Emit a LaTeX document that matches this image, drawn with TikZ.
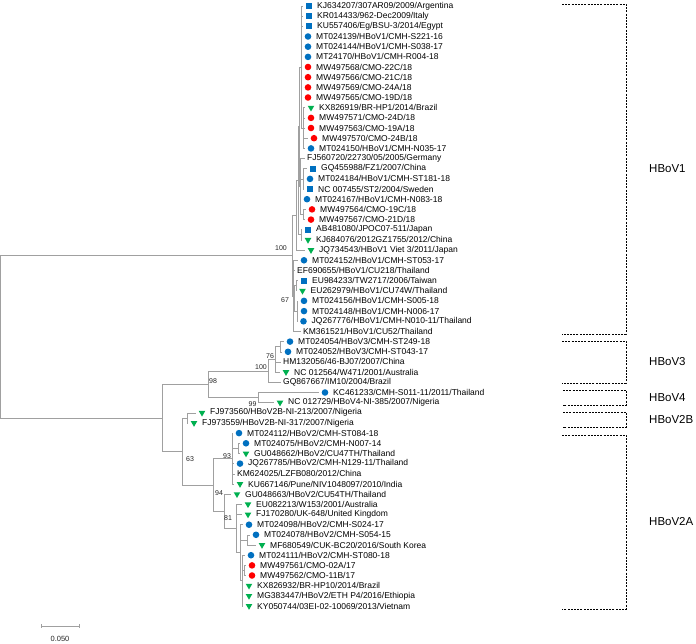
\documentclass[tikz,border=0pt]{standalone}
\usepackage{fontspec}
\setmainfont{Liberation Sans}
\usetikzlibrary{shapes.geometric}
\definecolor{hbblue}{RGB}{0,112,192}
\definecolor{hbred}{RGB}{255,0,0}
\definecolor{hbgreen}{RGB}{0,176,80}
\definecolor{branch}{RGB}{160,160,160}

% taxon with a marker: name, y, tip x, marker style, label
\newcommand{\taxon}[5]{%
  \coordinate (#1) at (#3,#2);
  \node[#4] (#1m) at ([xshift=6pt]#1) {};
  \node[tx] (#1t) at ([xshift=14pt]#1) {#5};}
% taxon without a marker
\newcommand{\taxonplain}[4]{%
  \coordinate (#1) at (#3,#2);
  \node[tx] (#1t) at ([xshift=2pt]#1) {#4};}

\begin{document}
\begin{tikzpicture}[x=1pt,y=-1pt,
    br/.style={draw=branch,line width=0.6pt},
    tx/.style={anchor=west,inner sep=0pt,font=\fontsize{8.5}{10}\selectfont},
    sq/.style={rectangle,fill=hbblue,inner sep=0pt,minimum size=6pt},
    bc/.style={circle,fill=hbblue,inner sep=0pt,minimum size=6.6pt},
    rc/.style={circle,fill=hbred,inner sep=0pt,minimum size=6.6pt},
    gt/.style={regular polygon,regular polygon sides=3,shape border rotate=180,fill=hbgreen,inner sep=0pt,minimum size=7.6pt},
    boot/.style={inner sep=0pt,font=\fontsize{7}{8}\selectfont,text=black!85},
    clade/.style={draw=black,line width=0.5pt,dash pattern=on 2pt off 1.2pt},
    cname/.style={anchor=west,inner sep=0pt,font=\fontsize{11.5}{13}\selectfont}]

    \useasboundingbox (0,0) rectangle (696,644);

    % HBoV1
    \taxon{kj634207}{6.0}{303}{sq}{KJ634207/307AR09/2009/Argentina}
    \taxon{kr014433}{16.2}{303}{sq}{KR014433/962-Dec2009/Italy}
    \taxon{ku557406}{26.3}{303}{sq}{KU557406/Eg/BSU-3/2014/Egypt}
    \taxon{mt024139}{36.5}{302}{bc}{MT024139/HBoV1/CMH-S221-16}
    \taxon{mt024144}{46.7}{302}{bc}{MT024144/HBoV1/CMH-S038-17}
    \taxon{mt24170}{56.9}{302}{bc}{MT24170/HBoV1/CMH-R004-18}
    \taxon{mw497568}{67.0}{302}{rc}{MW497568/CMO-22C/18}
    \taxon{mw497566}{77.2}{302}{rc}{MW497566/CMO-21C/18}
    \taxon{mw497569}{87.4}{302}{rc}{MW497569/CMO-24A/18}
    \taxon{mw497565}{97.5}{302}{rc}{MW497565/CMO-19D/18}
    \taxon{kx826919}{107.7}{305}{gt}{KX826919/BR-HP1/2014/Brazil}
    \taxon{mw497571}{117.9}{305}{rc}{MW497571/CMO-24D/18}
    \taxon{mw497563}{128.0}{305}{rc}{MW497563/CMO-19A/18}
    \taxon{mw497570}{138.2}{308}{rc}{MW497570/CMO-24B/18}
    \taxon{mt024150}{148.4}{305}{bc}{MT024150/HBoV1/CMH-N035-17}
    \taxonplain{fj560720}{158.6}{305}{FJ560720/22730/05/2005/Germany}
    \taxon{gq455988}{168.7}{307}{sq}{GQ455988/FZ1/2007/China}
    \taxon{mt024184}{178.9}{304}{bc}{MT024184/HBoV1/CMH-ST181-18}
    \taxon{nc007455}{189.1}{304}{sq}{NC 007455/ST2/2004/Sweden}
    \taxon{mt024167}{199.2}{301}{bc}{MT024167/HBoV1/CMH-N083-18}
    \taxon{mw497564}{209.4}{306}{rc}{MW497564/CMO-19C/18}
    \taxon{mw497567}{219.6}{305}{rc}{MW497567/CMO-21D/18}
    \taxon{ab481080}{229.7}{302}{sq}{AB481080/JPOC07-511/Japan}
    \taxon{kj684076}{239.9}{302}{gt}{KJ684076/2012GZ1755/2012/China}
    \taxon{jq734543}{250.1}{305}{gt}{JQ734543/HBoV1 Viet 3/2011/Japan}
    \taxon{mt024152}{260.3}{298}{bc}{MT024152/HBoV1/CMH-ST053-17}
    \taxonplain{ef690655}{270.4}{295}{EF690655/HBoV1/CU218/Thailand}
    \taxon{eu984233}{280.6}{298}{sq}{EU984233/TW2717/2006/Taiwan}
    \taxon{eu262979}{290.8}{296.5}{gt}{EU262979/HBoV1/CU74W/Thailand}
    \taxon{mt024156}{300.9}{298}{bc}{MT024156/HBoV1/CMH-S005-18}
    \taxon{mt024148}{311.1}{298}{bc}{MT024148/HBoV1/CMH-N006-17}
    \taxon{jq267776}{321.3}{297.5}{bc}{JQ267776/HBoV1/CMH-N010-11/Thailand}
    \taxonplain{km361521}{331.4}{301}{KM361521/HBoV1/CU52/Thailand}
    % HBoV3 and HBoV4
    \taxon{mt024054}{341.6}{284}{bc}{MT024054/HBoV3/CMH-ST249-18}
    \taxon{mt024052}{351.8}{282}{bc}{MT024052/HBoV3/CMH-ST043-17}
    \taxonplain{hm132056}{361.9}{281}{HM132056/46-BJ07/2007/China}
    \taxon{nc012564}{372.1}{280}{gt}{NC 012564/W471/2001/Australia}
    \taxonplain{gq867667}{382.3}{281}{GQ867667/IM10/2004/Brazil}
    \taxon{kc461233}{392.5}{319}{bc}{KC461233/CMH-S011-11/2011/Thailand}
    \taxon{nc012729}{402.6}{274}{gt}{NC 012729/HBoV4-NI-385/2007/Nigeria}
    % HBoV2
    \taxon{fj973560}{412.8}{196}{gt}{FJ973560/HBoV2B-NI-213/2007/Nigeria}
    \taxon{fj973559}{423.0}{188}{gt}{FJ973559/HBoV2B-NI-317/2007/Nigeria}
    \taxon{mt024112}{433.1}{233}{bc}{MT024112/HBoV2/CMH-ST084-18}
    \taxon{mt024075}{443.3}{240}{bc}{MT024075/HBoV2/CMH-N007-14}
    \taxon{gu048662}{453.5}{240}{gt}{GU048662/HBoV2/CU47TH/Thailand}
    \taxon{jq267785}{463.6}{234}{bc}{JQ267785/HBoV2/CMH-N129-11/Thailand}
    \taxonplain{km624025}{473.8}{235}{KM624025/LZFB080/2012/China}
    \taxon{ku667146}{484.0}{234}{gt}{KU667146/Pune/NIV1048097/2010/India}
    \taxon{gu048663}{494.2}{231}{gt}{GU048663/HBoV2/CU54TH/Thailand}
    \taxon{eu082213}{504.3}{242}{gt}{EU082213/W153/2001/Australia}
    \taxon{fj170280}{514.5}{242}{gt}{FJ170280/UK-648/United Kingdom}
    \taxon{mt024098}{524.7}{243}{bc}{MT024098/HBoV2/CMH-S024-17}
    \taxon{mt024078}{534.8}{250}{bc}{MT024078/HBoV2/CMH-S054-15}
    \taxon{mf680549}{545.0}{256}{gt}{MF680549/CUK-BC20/2016/South Korea}
    \taxon{mt024111}{555.2}{245}{bc}{MT024111/HBoV2/CMH-ST080-18}
    \taxon{mw497561}{565.4}{246}{rc}{MW497561/CMO-02A/17}
    \taxon{mw497562}{575.5}{246}{rc}{MW497562/CMO-11B/17}
    \taxon{kx826932}{585.7}{243}{gt}{KX826932/BR-HP10/2014/Brazil}
    \taxon{mg383447}{595.9}{243}{gt}{MG383447/HBoV2/ETH P4/2016/Ethiopia}
    \taxon{ky050744}{606.0}{243}{gt}{KY050744/03EI-02-10069/2013/Vietnam}

    % internal nodes
    \coordinate (p2) at (303,128.1);
    \coordinate (p1) at (301,67.0);
    \coordinate (p5) at (303,178.9);
    \coordinate (p6) at (303,214.5);
    \coordinate (p4) at (300,186.6);
    \coordinate (p3) at (299,126.8);
    \coordinate (p7) at (301,234.8);
    \coordinate (py) at (298,180.8);
    \coordinate (pa) at (296,215.5);
    \coordinate (q1) at (296,285.7);
    \coordinate (q2) at (297,311.1);
    \coordinate (q3) at (294.5,298.4);
    \coordinate (q4) at (293.5,295.9);
    \coordinate (hb1) at (292,255.7);
    \coordinate (v3a) at (280,346.7);
    \coordinate (v3b) at (275,359.4);
    \coordinate (hb3) at (268,370.9);
    \coordinate (hb4) at (258,397.6);
    \coordinate (hb34) at (208,384.2);
    \coordinate (hb2b) at (187,417.9);
    \coordinate (w1) at (238,448.4);
    \coordinate (w93) at (232,458.6);
    \coordinate (w2) at (247,539.9);
    \coordinate (w3) at (244.5,570.5);
    \coordinate (w4) at (242,580.6);
    \coordinate (w5) at (240,552.7);
    \coordinate (w81) at (236,528.5);
    \coordinate (w94) at (224,511.4);
    \coordinate (hb2a) at (213,485.0);
    \coordinate (hb2) at (182,451.5);
    \coordinate (hbx) at (162,417.8);
    \coordinate (root) at (0.6,336.8);

    % branches
    \draw[br] (p1) |- (kj634207) (p1) |- (kr014433) (p1) |- (ku557406) (p1) |- (mt024139)
      (p1) |- (mt024144) (p1) |- (mt24170) (p1) |- (mw497568) (p1) |- (mw497566)
      (p1) |- (mw497569) (p1) |- (mw497565) (p1) |- (p2);
    \draw[br] (p2) |- (kx826919) (p2) |- (mw497571) (p2) |- (mw497563) (p2) |- (mw497570) (p2) |- (mt024150);
    \draw[br] (p5) |- (gq455988) (p5) |- (mt024184) (p5) |- (nc007455);
    \draw[br] (p6) |- (mw497564) (p6) |- (mw497567);
    \draw[br] (p4) |- (fj560720) (p4) |- (p5) (p4) |- (mt024167) (p4) |- (p6);
    \draw[br] (p3) |- (p1) (p3) |- (p4);
    \draw[br] (p7) |- (ab481080) (p7) |- (kj684076);
    \draw[br] (py) |- (p3) (py) |- (p7);
    \draw[br] (pa) |- (py) (pa) |- (jq734543);
    \draw[br] (q1) |- (eu984233) (q1) |- (eu262979);
    \draw[br] (q2) |- (mt024156) (q2) |- (mt024148) (q2) |- (jq267776);
    \draw[br] (q3) |- (q1) (q3) |- (q2);
    \draw[br] (q4) |- (mt024152) (q4) |- (ef690655) (q4) |- (q3) (q4) |- (km361521);
    \draw[br] (hb1) |- (pa) (hb1) |- (q4);
    \draw[br] (v3a) |- (mt024054) (v3a) |- (mt024052);
    \draw[br] (v3b) |- (v3a) (v3b) |- (hm132056) (v3b) |- (nc012564);
    \draw[br] (hb3) |- (v3b) (hb3) |- (gq867667);
    \draw[br] (hb4) |- (kc461233) (hb4) |- (nc012729);
    \draw[br] (hb34) |- (hb3) (hb34) |- (hb4);
    \draw[br] (hb2b) |- (fj973560) (hb2b) |- (fj973559);
    \draw[br] (w1) |- (mt024075) (w1) |- (gu048662);
    \draw[br] (w93) |- (mt024112) (w93) |- (w1) (w93) |- (jq267785) (w93) |- (km624025) (w93) |- (ku667146);
    \draw[br] (w2) |- (mt024078) (w2) |- (mf680549);
    \draw[br] (w3) |- (mw497561) (w3) |- (mw497562);
    \draw[br] (w4) |- (mt024111) (w4) |- (w3) (w4) |- (kx826932) (w4) |- (mg383447) (w4) |- (ky050744);
    \draw[br] (w5) |- (mt024098) (w5) |- (w2) (w5) |- (w4);
    \draw[br] (w81) |- (eu082213) (w81) |- (fj170280) (w81) |- (w5);
    \draw[br] (w94) |- (gu048663) (w94) |- (w81);
    \draw[br] (hb2a) |- (w93) (hb2a) |- (w94);
    \draw[br] (hb2) |- (hb2b) (hb2) |- (hb2a);
    \draw[br] (hbx) |- (hb34) (hbx) |- (hb2);
    \draw[br] (root) |- (hb1) (root) |- (hbx);

    % bootstrap values
    \node[boot] (bs1) at (281,248) {100};
    \node[boot] (bs2) at (285,300) {67};
    \node[boot] (bs3) at (270,356) {76};
    \node[boot] (bs4) at (261,367) {100};
    \node[boot] (bs5) at (213,381) {98};
    \node[boot] (bs6) at (252.5,404) {99};
    \node[boot] (bs7) at (190,459) {63};
    \node[boot] (bs8) at (227,456) {93};
    \node[boot] (bs9) at (219,493) {94};
    \node[boot] (bs10) at (228,518) {81};

    % clade brackets
    \draw[clade] (562,4) -| (626,334) -- (562,334);
    \draw[clade] (562,341) -| (626,383) -- (562,383);
    \draw[clade] (563,390) -| (626,405) -- (563,405);
    \draw[clade] (563,412) -| (626,427) -- (563,427);
    \draw[clade] (562,435) -| (626,609) -- (562,609);
    \node[cname] (c1) at (649,169) {HBoV1};
    \node[cname] (c3) at (649,362) {HBoV3};
    \node[cname] (c4) at (649,397.5) {HBoV4};
    \node[cname] (c2b) at (649,419.5) {HBoV2B};
    \node[cname] (c2a) at (649,522) {HBoV2A};

    % scale bar
    \coordinate (sb1) at (41,626);
    \coordinate (sb2) at (79,626);
    \draw[br] (sb1) -- (sb2);
    \draw[br] ([yshift=1.6pt]sb1) -- ([yshift=-1.6pt]sb1);
    \draw[br] ([yshift=1.6pt]sb2) -- ([yshift=-1.6pt]sb2);
    \node[boot,font=\fontsize{7.5}{9}\selectfont] (sbl) at (60,639) {0.050};
  \end{tikzpicture}
\end{document}
